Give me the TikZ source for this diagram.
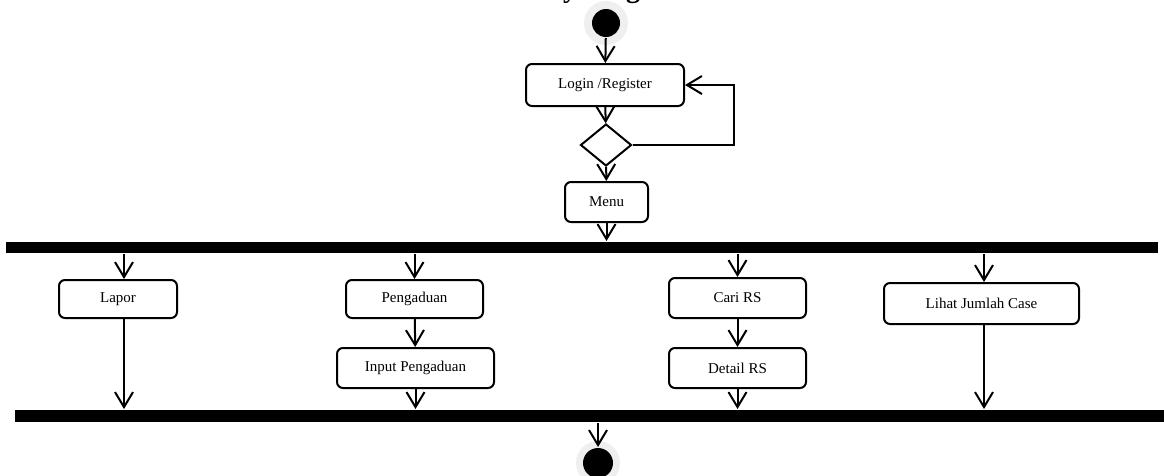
\documentclass[tikz,border=0pt]{standalone}
\usepackage{fontspec}
\setmainfont{Liberation Serif}
\usetikzlibrary{arrows.meta,shapes.geometric}
\definecolor{halo}{HTML}{EFEFEF}
\begin{document}
\begin{tikzpicture}[x=1pt,y=-1pt,
  line width=2pt,
  arr/.style={-{Straight Barb[length=15pt,width=18pt,line width=2pt]}},
  act/.style={draw,rounded corners=6pt,font=\fontsize{15}{18}\selectfont,inner sep=0pt},
  forkbar/.style={fill=black,draw=none,inner sep=0pt},
  dot/.style={circle,fill=black,inner sep=0pt,minimum size=28pt},
  glow/.style={circle,fill=halo,inner sep=0pt,minimum size=44pt}]
\useasboundingbox (0,0) rectangle (1164,475);

% title, partly above the page edge
\node[anchor=base,font=\bfseries\fontsize{28}{32}\selectfont] (title) at (586,-3) {Activity Diagram};

% start and login loop
\node[glow] (starthalo) at (606,23) {};
\node[dot] (start) at (606,23) {};
\node[act,minimum width=158pt,minimum height=42pt] (login) at (605,85) {Login /Register};
\node[draw,diamond,aspect=1.2,minimum width=51pt,minimum height=42pt,inner sep=0pt] (dec) at (606,145) {};
\node[act,minimum width=83pt,minimum height=40pt] (menu) at (606.5,202) {Menu};

% fork and join bars
\node[forkbar,minimum width=1152pt,minimum height=11pt] (fork) at (582,247.5) {};
\node[forkbar,minimum width=1152pt,minimum height=12pt] (join) at (591,416) {};

% parallel activities
\node[act,minimum width=118pt,minimum height=38pt] (lapor) at (118,299) {Lapor};
\node[act,minimum width=137pt,minimum height=38pt] (peng) at (414.5,299) {Pengaduan};
\node[act,minimum width=157pt,minimum height=40pt] (input) at (415.5,368) {Input Pengaduan};
\node[act,minimum width=137pt,minimum height=40pt] (cari) at (737.5,298) {Cari RS};
\node[act,minimum width=137pt,minimum height=40pt] (detail) at (737.5,368) {Detail RS};
\node[act,minimum width=195pt,minimum height=41pt] (lihat) at (981.5,303.5) {Lihat Jumlah Case};

% end
\node[glow] (endhalo) at (598,463) {};
\node[dot,minimum size=30pt] (end) at (598,463) {};

% flow
\draw[arr] (start) -- (login);
\draw[arr] (login) -- (dec);
\draw[arr] (dec.east) -- ++(101,0) |- (login.east);
\draw[arr] (dec) -- (menu);
\draw[arr] (menu) -- (menu |- fork.north);

\draw[arr] (fork.south -| 124,0) -- (lapor.north -| 124,0);
\draw[arr] (fork.south -| peng) -- (peng);
\draw[arr] (fork.south -| cari) -- (cari);
\draw[arr] (fork.south -| 984,0) -- (lihat.north -| 984,0);

\draw[arr] (peng) -- (input);
\draw[arr] (cari) -- (detail);

\draw[arr] (lapor.south -| 124,0) -- (join.north -| 124,0);
\draw[arr] (input) -- (input |- join.north);
\draw[arr] (detail) -- (detail |- join.north);
\draw[arr] (lihat.south -| 984,0) -- (join.north -| 984,0);

\draw[arr] (join.south -| end) -- (end);
\end{tikzpicture}
\end{document}
